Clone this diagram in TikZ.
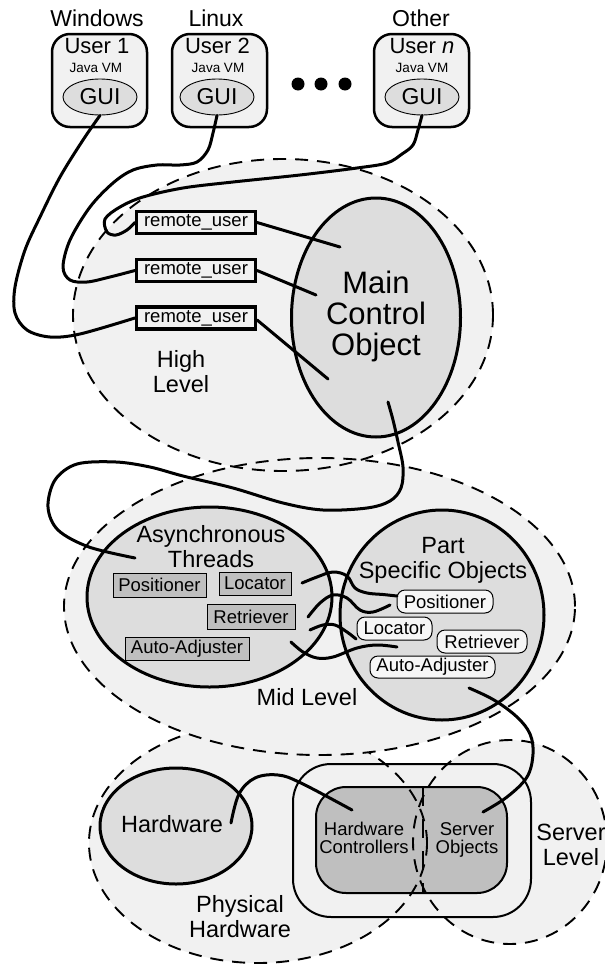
\documentclass[tikz,border=0pt]{standalone}
\usepackage{fontspec}
\setmainfont{Liberation Sans}
\usetikzlibrary{shapes.geometric}
\definecolor{lvlfill}{gray}{0.945}
\definecolor{objfill}{gray}{0.865}
\definecolor{boxfill}{gray}{0.75}
\definecolor{tagfill}{gray}{0.965}

\begin{document}
\begin{tikzpicture}[x=1pt,y=-1pt,
  region/.style={ellipse, fill=lvlfill, inner sep=0pt, outer sep=0pt},
  rim/.style={line width=1.9pt, dash pattern=on 13pt off 9pt},
  blob/.style={ellipse, draw, line width=3pt, fill=objfill, inner sep=0pt, outer sep=0pt},
  wire/.style={line width=3pt, line cap=round, line join=round},
  bigtxt/.style={font=\fontsize{23.5}{25}\selectfont, inner sep=0pt, align=center},
  smalltxt/.style={font=\fontsize{18.5}{18}\selectfont, inner sep=0pt, align=center},
  userbox/.style={draw, line width=2.5pt, fill=lvlfill, rounded corners=18pt, minimum width=95pt, minimum height=93pt, inner sep=0pt},
  gui/.style={ellipse, draw, line width=0.9pt, fill=objfill, minimum width=74pt, minimum height=36pt, inner sep=0pt, font=\fontsize{23}{23}\selectfont},
  vm/.style={font=\fontsize{13.5}{14}\selectfont, inner sep=0pt, anchor=base},
  utxt/.style={font=\fontsize{22}{22}\selectfont, inner sep=0pt, anchor=base},
  remote/.style={draw, line width=3.2pt, fill=lvlfill, minimum width=119pt, minimum height=22pt, inner sep=0pt, font=\fontsize{18.5}{18.5}\selectfont},
  thread/.style={draw, line width=1pt, fill=boxfill, inner sep=0pt, font=\fontsize{18.5}{18.5}\selectfont},
  part/.style={draw, line width=1pt, fill=tagfill, rounded corners=8pt, inner sep=0pt, font=\fontsize{18.5}{18.5}\selectfont},
  dot/.style={circle, fill, inner sep=0pt, minimum size=13pt},
]
\useasboundingbox (0,0) rectangle (605,964);

% ---------- lower regions: physical hardware and server level ----------
\node[region, minimum width=338pt, minimum height=240pt] (phys) at (258,843) {};
\node[region, minimum width=194pt, minimum height=204pt] (srv) at (510,842) {};
\node[draw, line width=2pt, fill=lvlfill, rounded corners=38pt, minimum width=238pt, minimum height=153pt, inner sep=0pt] (outer) at (412,840.5) {};
\node[draw, line width=2pt, fill=boxfill, rounded corners=30pt, minimum width=191pt, minimum height=106pt, inner sep=0pt] (inner) at (411.5,840) {};
\coordinate (divtop) at (423,787);
\coordinate (divbot) at (423,893);
\draw[line width=2.8pt, dash pattern=on 19pt off 13pt] (divtop) -- (divbot);
\draw[rim] (phys.center) ellipse [x radius=169pt, y radius=120pt];
\draw[rim] (srv.center) ellipse [x radius=97pt, y radius=102pt];

% ---------- upper regions: high level and mid level ----------
\node[region, minimum width=420pt, minimum height=312pt] (high) at (283,315) {};
\node[region, minimum width=511pt, minimum height=297pt] (mid) at (319.5,606.5) {};
\draw[rim] (high.center) ellipse [x radius=210pt, y radius=156pt];
\draw[rim] (mid.center) ellipse [x radius=255.5pt, y radius=148.5pt];

% ---------- main objects ----------
\node[blob, minimum width=169pt, minimum height=239pt] (main) at (376,317.5) {};
\node[bigtxt, font=\fontsize{31}{31}\selectfont] (maintxt) at (376,316) {Main\\Control\\Object};
\node[blob, minimum width=245pt, minimum height=180pt] (async) at (209.5,597) {};
\node[blob, minimum width=204pt, minimum height=210pt] (parts) at (442,615) {};
\node[blob, minimum width=152pt, minimum height=116pt] (hw) at (176,826) {};

% ---------- region and object labels ----------
\node[bigtxt] (hightxt) at (181,372) {High\\Level};
\node[bigtxt, anchor=base] (midtxt) at (307,705) {Mid Level};
\node[bigtxt] (asynctxt) at (211,546.5) {Asynchronous\\Threads};
\node[bigtxt] (partstxt) at (443,560.5) {Part\\Specific Objects};
\node[bigtxt, anchor=base] (hwtxt) at (172,832) {Hardware};
\node[bigtxt] (phystxt) at (240,916.5) {Physical\\Hardware};
\node[bigtxt] (srvtxt) at (571,845) {Server\\Level};
\node[smalltxt] (ctrltxt) at (364,837.5) {Hardware\\Controllers};
\node[smalltxt] (objtxt) at (467,839.5) {Server\\Objects};

% ---------- user machines ----------
\node[userbox] (user1) at (99.5,80.5) {};
\node[userbox] (user2) at (219.5,80.5) {};
\node[userbox] (usern) at (421.5,80.5) {};
\node[bigtxt, anchor=base, font=\fontsize{23}{23}\selectfont] (os1) at (97,26) {Windows};
\node[bigtxt, anchor=base, font=\fontsize{23}{23}\selectfont] (os2) at (216,26) {Linux};
\node[bigtxt, anchor=base, font=\fontsize{23}{23}\selectfont] (osn) at (421,26) {Other};
\node[utxt] (ulab1) at (97,53) {User 1};
\node[utxt] (ulab2) at (217.5,53) {User 2};
\node[utxt] (ulabn) at (422,53) {User \textit{n}};
\node[vm] (vm1) at (96,72) {Java VM};
\node[vm] (vm2) at (218,72) {Java VM};
\node[vm] (vmn) at (422,72) {Java VM};
\node[gui] (gui1) at (100,97) {GUI};
\node[gui] (gui2) at (217,97) {GUI};
\node[gui] (guin) at (422,97) {GUI};
\node[dot] (dot1) at (298,84) {};
\node[dot] (dot2) at (321,84) {};
\node[dot] (dot3) at (345,84) {};

% ---------- remote user proxies ----------
\node[remote] (ru1) at (196,222.5) {remote\_user};
\node[remote] (ru2) at (196,270.5) {remote\_user};
\node[remote] (ru3) at (196,318) {remote\_user};

% ---------- thread objects and part objects ----------
\node[thread, minimum width=93pt, minimum height=24pt] (tpos) at (159.5,585) {Positioner};
\node[thread, minimum width=72pt, minimum height=23pt] (tloc) at (255,583.5) {Locator};
\node[thread, minimum width=88pt, minimum height=25pt] (tret) at (251,616.5) {Retriever};
\node[thread, minimum width=124pt, minimum height=23pt] (tauto) at (187,648.5) {Auto-Adjuster};
\node[part, minimum width=96pt, minimum height=23pt] (ppos) at (445,601.5) {Positioner};
\node[part, minimum width=75pt, minimum height=23pt] (ploc) at (394.5,628.5) {Locator};
\node[part, minimum width=90pt, minimum height=23pt] (pret) at (482,641.5) {Retriever};
\node[part, minimum width=125pt, minimum height=22pt] (pauto) at (432.5,667) {Auto-Adjuster};

% ---------- free wire ends ----------
\coordinate (m1) at (340,247);
\coordinate (m2) at (316,295);
\coordinate (m3) at (328,379);
\coordinate (mdown) at (388,402);
\coordinate (athr) at (135,558);
\coordinate (wloc) at (302,583);
\coordinate (wret) at (308,617);
\coordinate (wret2) at (310,630);
\coordinate (wauto) at (291,642);
\coordinate (eauto) at (397,647);
\coordinate (hwin) at (231,823);
\coordinate (ctrlin) at (352,810);
\coordinate (partout) at (469,688);
\coordinate (objin) at (483,812);

% ---------- wires: GUIs to remote users ----------
\draw[wire] plot[smooth, tension=0.55] coordinates {(gui1.south) (83,140) (60,177) (40,217) (25,250) (15,287) (15,313) (27,330) (50,337) (80,334) (ru3.west)};
\draw[wire] plot[smooth, tension=0.55] coordinates {(gui2.south) (213,133) (208,150) (197,162) (180,165) (157,165) (133,170) (113,183) (90,207) (70,240) (63,267) (70,280) (87,282) (110,277) (ru2.west)};
\draw[wire] plot[smooth, tension=0.55] coordinates {(guin.south) (418,130) (413,145) (402,154) (387,163) (357,168) (300,175) (233,182) (183,188) (143,197) (120,207) (105,219) (107,232) (116,235) (127,230) (ru1.west)};

% ---------- wires: remote users to the main control object ----------
\draw[wire] (ru1.east) -- (m1);
\draw[wire] (ru2.east) -- (m2);
\draw[wire] ([yshift=-2pt]ru3.east) -- (m3);

% ---------- wire: main control object to the threads ----------
\draw[wire] plot[smooth, tension=0.55] coordinates {(mdown) (393,420) (398,442) (403,467) (401,488) (390,501) (367,508) (323,510) (283,503) (233,488) (183,476) (150,467) (116,462) (77,464) (55,480) (48,507) (58,530) (89,547) (athr)};

% ---------- wires: threads to part objects ----------
\draw[wire] plot[smooth, tension=0.6] coordinates {(wloc) (317,577) (333,572) (347,576) (355,588) (367,593) (383,594.5) (397,596)};
\draw[wire] plot[smooth, tension=0.6] coordinates {(wret) (320,603) (333,595) (347,598) (360,610) (373,612) (390,605)};
\draw[wire] plot[smooth, tension=0.6] coordinates {(wret2) (323,625) (335,625) (347,632) (356,639)};
\draw[wire] plot[smooth, tension=0.6] coordinates {(wauto) (303,652) (317,658) (333,657) (357,648) (377,645) (eauto)};

% ---------- wires: hardware and server objects ----------
\draw[wire] plot[smooth, tension=0.6] coordinates {(hwin) (239,794) (255,778) (278,775) (301,783) (ctrlin)};
\draw[wire] plot[smooth, tension=0.6] coordinates {(partout) (494,700) (517,717) (530,734) (533,754) (527,777) (507,797) (objin)};
\end{tikzpicture}
\end{document}
